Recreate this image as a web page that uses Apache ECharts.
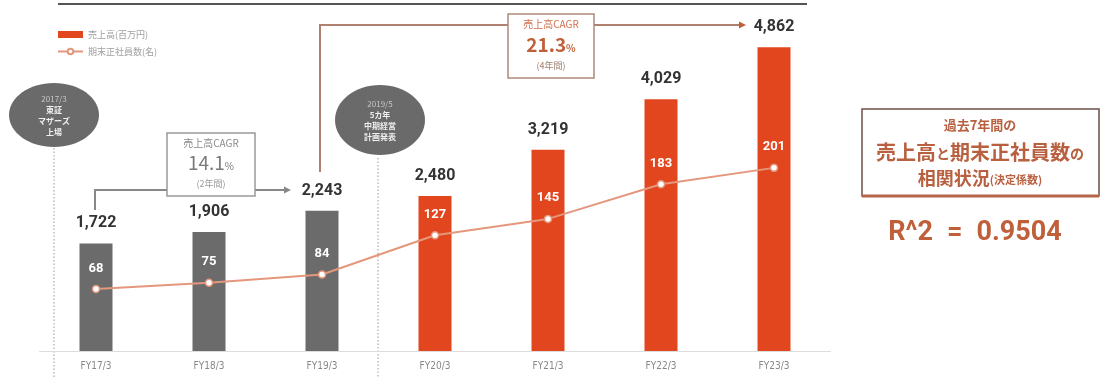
<!DOCTYPE html>
<html><head><meta charset="utf-8">
<script src="https://cdn.jsdelivr.net/npm/echarts@6/dist/echarts.min.js"></script>
<style>html,body{margin:0;padding:0;background:#fff}#c{width:1110px;height:380px}</style>
</head><body><div id="c"></div>
<script>
const categories = ['FY17/3','FY18/3','FY19/3','FY20/3','FY21/3','FY22/3','FY23/3'];
const sales = [1722, 1906, 2243, 2480, 3219, 4029, 4862];
const employees = [68, 75, 84, 127, 145, 183, 201];
const seriesNames = ['売上高(百万円)', '期末正社員数(名)'];
const grayCount = 3;

const FONT = '"Noto Sans CJK JP","Noto Sans",sans-serif';
const GRAY = '#6b6b6b', ORANGE = '#e2461e', LINEC = '#e4977c';
const BROWN = '#b8603f';

const chart = echarts.init(document.getElementById('c'));
const fmt = v => String(v).replace(/\B(?=(\d{3})+(?!\d))/g, ',');

const graphics = [
  {type:'line', shape:{x1:58,y1:4,x2:807,y2:4}, style:{stroke:'#555',lineWidth:2}},
  {type:'line', shape:{x1:54,y1:148,x2:54,y2:378}, style:{stroke:'#999',lineWidth:1,lineDash:[1.5,2]}},
  {type:'line', shape:{x1:378,y1:158,x2:378,y2:378}, style:{stroke:'#999',lineWidth:1,lineDash:[1.5,2]}},
  {type:'ellipse', shape:{cx:54,cy:115,rx:45,ry:32}, style:{fill:'#6a6a6a'}},
  {type:'text', x:54, y:115, style:{text:'{l|2017/3}\n東証\nマザーズ\n上場', rich:{l:{fill:'#c8c8c8',font:'8px '+FONT}}, fill:'#eee', font:'bold 8px '+FONT, align:'center', verticalAlign:'middle', lineHeight:11}},
  {type:'ellipse', shape:{cx:380,cy:120,rx:45,ry:35}, style:{fill:'#6a6a6a'}},
  {type:'text', x:380, y:120, style:{text:'{l|2019/5}\n5カ年\n中期経営\n計画発表', rich:{l:{fill:'#c8c8c8',font:'8px '+FONT}}, fill:'#eee', font:'bold 8px '+FONT, align:'center', verticalAlign:'middle', lineHeight:11}},
  {type:'polyline', shape:{points:[[95,210],[95,190],[167,190]]}, style:{stroke:'#888',lineWidth:2,fill:null}},
  {type:'line', shape:{x1:255,y1:190,x2:285,y2:190}, style:{stroke:'#888',lineWidth:2}},
  {type:'polygon', shape:{points:[[284,186.5],[291,190],[284,193.5]]}, style:{fill:'#888'}},
  {type:'rect', shape:{x:167,y:133,width:88,height:63}, style:{fill:'#fff',stroke:'#999',lineWidth:1.5}},
  {type:'text', x:211, y:143, style:{text:'売上高CAGR', fill:'#8a8a8a', font:'10px '+FONT, align:'center', verticalAlign:'middle'}},
  {type:'text', x:211, y:163, style:{text:'{a|14.1}{b|%}', rich:{a:{fill:'#7a7a7a',font:'19px '+FONT},b:{fill:'#7a7a7a',font:'10px '+FONT,padding:[6,0,0,0]}}, align:'center', verticalAlign:'middle'}},
  {type:'text', x:211, y:184, style:{text:'(2年間)', fill:'#999', font:'9px '+FONT, align:'center', verticalAlign:'middle'}},
  {type:'polyline', shape:{points:[[320,172],[320,25],[508,25]]}, style:{stroke:'#b08070',lineWidth:2,fill:null}},
  {type:'line', shape:{x1:594,y1:25,x2:740,y2:25}, style:{stroke:'#b08070',lineWidth:2}},
  {type:'polygon', shape:{points:[[739,21.5],[746,25],[739,28.5]]}, style:{fill:'#c0603a'}},
  {type:'rect', shape:{x:508,y:14,width:86,height:64}, style:{fill:'#fff',stroke:'#b08878',lineWidth:1.5}},
  {type:'text', x:551, y:24, style:{text:'売上高CAGR', fill:'#d0704c', font:'10px '+FONT, align:'center', verticalAlign:'middle'}},
  {type:'text', x:551, y:45, style:{text:'{a|21.3}{b|%}', rich:{a:{fill:'#c0603a',font:'bold 19px '+FONT},b:{fill:'#c0603a',font:'bold 10px '+FONT,padding:[6,0,0,0]}}, align:'center', verticalAlign:'middle'}},
  {type:'text', x:551, y:66, style:{text:'(4年間)', fill:'#a08070', font:'9px '+FONT, align:'center', verticalAlign:'middle'}},
  {type:'rect', shape:{x:862,y:109,width:237,height:87}, style:{fill:'#fff',stroke:'#6b5048',lineWidth:1.5}},
  {type:'line', shape:{x1:862,y1:196,x2:1099,y2:196}, style:{stroke:'#b5674c',lineWidth:3}},
  {type:'text', x:980, y:125, style:{text:'過去7年間の', fill:BROWN, font:'bold 13px '+FONT, align:'center', verticalAlign:'middle'}},
  {type:'text', x:980, y:152, style:{text:'{b|売上高}{s|と}{b|期末正社員数}{s|の}', rich:{b:{fill:BROWN,font:'bold 20px '+FONT},s:{fill:BROWN,font:'bold 14px '+FONT,padding:[4,0,0,0]}}, align:'center', verticalAlign:'middle'}},
  {type:'text', x:980, y:178, style:{text:'{b|相関状況}{s|(決定係数)}', rich:{b:{fill:BROWN,font:'bold 18px '+FONT},s:{fill:BROWN,font:'bold 11px '+FONT,padding:[3,0,0,0]}}, align:'center', verticalAlign:'middle'}},
  {type:'text', x:975, y:233, style:{text:'{a|R^2}{e|=}{a|0.9504}', rich:{a:{fill:'#c0603a',font:'bold 27px Roboto,"Noto Sans",sans-serif'},e:{fill:'#c0603a',font:'bold 27px Roboto,"Noto Sans",sans-serif',padding:[0,14,0,14]}}, align:'center', verticalAlign:'middle'}}
];

chart.setOption({
  animation:false,
  grid:{left:39.5, width:791, top:38.5, bottom:29},
  legend:{
    orient:'vertical', left:52, top:25, itemWidth:25, itemHeight:7, itemGap:8,
    textStyle:{color:'#a0a0a0', fontSize:9, fontFamily:FONT},
    data:[{name:seriesNames[0], icon:'rect'}, {name:seriesNames[1]}]
  },
  xAxis:{type:'category', data:categories,
    axisLine:{lineStyle:{color:'#ddd'}}, axisTick:{show:false},
    axisLabel:{color:'#888', fontSize:10, margin:10, fontFamily:'"Liberation Sans Narrow","DejaVu Sans Condensed",sans-serif'}},
  yAxis:[
    {type:'value', min:0, max:5000, show:false, splitLine:{show:false}},
    {type:'value', min:0, max:343, show:false, splitLine:{show:false}}
  ],
  series:[
    {name:seriesNames[0], type:'bar', barWidth:33, color:ORANGE,
     data: sales.map((v,i)=> i<grayCount ? {value:v, itemStyle:{color:GRAY}} : v),
     label:{show:true, position:'top', distance:12, formatter:p=>fmt(p.value), color:'#333', fontSize:16, fontWeight:'bold', fontFamily:'Roboto,"Noto Sans",sans-serif'}},
    {name:seriesNames[1], type:'line', yAxisIndex:1, data:employees, color:LINEC,
     lineStyle:{color:LINEC, width:2}, symbol:'circle', symbolSize:7,
     itemStyle:{color:'#fff', borderColor:LINEC, borderWidth:1.5},
     label:{show:true, position:'top', distance:10, color:'#fff', fontSize:13, fontWeight:'bold', fontFamily:'Roboto,"Noto Sans",sans-serif'}}
  ],
  graphic: graphics
});
</script></body></html>
